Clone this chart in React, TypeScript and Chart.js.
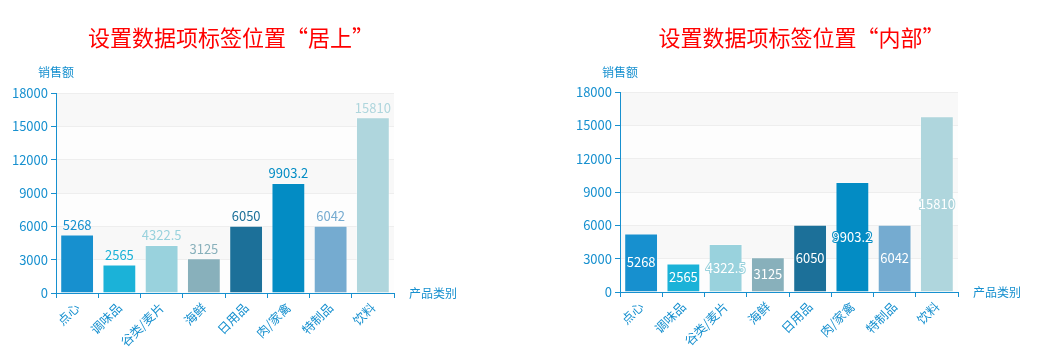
import React, { useEffect, useRef } from "react";
import { Chart, registerables } from "chart.js";

Chart.register(...registerables);

const categories = ["点心", "调味品", "谷类/麦片", "海鲜", "日用品", "肉/家禽", "特制品", "饮料"];
const salesValues = [5268, 2565, 4322.5, 3125, 6050, 9903.2, 6042, 15810];
const barColors = ["#1790cf", "#1bb2d8", "#99d2dd", "#88b0bb", "#1c7099", "#038cc4", "#75abd0", "#afd6dd"];
const yMin = 0;
const yMax = 18000;
const yStep = 3000;
const chartTitles = ["设置数据项标签位置“居上”", "设置数据项标签位置“内部”"];
const yAxisName = "销售额";
const xAxisName = "产品类别";

const FONT = '"Noto Sans CJK SC", "Noto Sans", sans-serif';
const AXIS_COLOR = "#1790cf";

type PanelProps = {
  left: number;
  width: number;
  padTop: number;
  padRight: number;
  xHeight: number;
  titleX: number;
  title: string;
  mode: "top" | "inside";
};

function Panel(props: PanelProps) {
  const ref = useRef<HTMLCanvasElement | null>(null);
  useEffect(() => {
    const canvas = ref.current;
    if (!canvas) return;

    const bandsPlugin = {
      id: "bands",
      beforeDraw(chart: any) {
        const { ctx, chartArea } = chart;
        const ys = chart.scales.y;
        ctx.save();
        let i = 0;
        for (let v = yMin; v < yMax; v += yStep) {
          const y1 = ys.getPixelForValue(v);
          const y2 = ys.getPixelForValue(v + yStep);
          ctx.fillStyle = i % 2 === 0 ? "rgba(250,250,250,0.3)" : "rgba(200,200,200,0.13)";
          ctx.fillRect(chartArea.left, y2, chartArea.right - chartArea.left, y1 - y2);
          i++;
        }
        ctx.restore();
      },
    };

    const labelsPlugin = {
      id: "barLabels",
      afterDatasetsDraw(chart: any) {
        const { ctx } = chart;
        const meta = chart.getDatasetMeta(0);
        ctx.save();
        ctx.font = "13px " + FONT;
        ctx.textAlign = "center";
        meta.data.forEach((bar: any, i: number) => {
          const text = String(salesValues[i]);
          if (props.mode === "top") {
            ctx.textBaseline = "bottom";
            ctx.fillStyle = barColors[i];
            ctx.fillText(text, bar.x, bar.y - 3);
          } else {
            ctx.textBaseline = "middle";
            const cy = (bar.y + bar.base) / 2;
            ctx.lineWidth = 2;
            ctx.lineJoin = "round";
            ctx.strokeStyle = barColors[i];
            ctx.strokeText(text, bar.x, cy);
            ctx.fillStyle = "#ffffff";
            ctx.fillText(text, bar.x, cy);
          }
        });
        ctx.restore();
      },
    };

    const textPlugin = {
      id: "texts",
      afterDraw(chart: any) {
        const { ctx, chartArea } = chart;
        ctx.save();
        ctx.fillStyle = "#ff0000";
        ctx.font = "22px " + FONT;
        ctx.textAlign = "center";
        ctx.textBaseline = "middle";
        ctx.fillText(props.title, props.titleX, 38);
        ctx.fillStyle = AXIS_COLOR;
        ctx.font = "12px " + FONT;
        ctx.fillText(yAxisName, chartArea.left, 72);
        ctx.textAlign = "left";
        ctx.fillText(xAxisName, chartArea.right + 15, chartArea.bottom);
        ctx.restore();
      },
    };

    const chart = new Chart(canvas, {
      type: "bar",
      data: {
        labels: categories,
        datasets: [
          {
            data: salesValues,
            backgroundColor: barColors,
            borderColor: "rgba(255,255,255,0.35)",
            borderWidth: 1,
            barPercentage: 0.8,
            categoryPercentage: 1,
          },
        ],
      },
      options: {
        responsive: false,
        animation: false,
        devicePixelRatio: 1,
        layout: { padding: { left: 0, top: props.padTop, right: props.padRight, bottom: 0 } },
        plugins: {
          legend: { display: false },
          tooltip: { enabled: false },
          title: { display: false },
        },
        scales: {
          x: {
            offset: true,
            border: { color: AXIS_COLOR, width: 1 },
            grid: {
              offset: true,
              drawOnChartArea: false,
              drawTicks: true,
              tickLength: 5,
              color: AXIS_COLOR,
            },
            ticks: {
              autoSkip: false,
              minRotation: 45,
              maxRotation: 45,
              color: AXIS_COLOR,
              padding: 2,
              font: { size: 12.5, family: FONT },
            },
            afterFit(scale: any) {
              scale.height = props.xHeight;
            },
          },
          y: {
            min: yMin,
            max: yMax,
            border: { color: AXIS_COLOR, width: 1 },
            grid: {
              color: "#eeeeee",
              tickColor: AXIS_COLOR,
              tickLength: 5,
              drawTicks: true,
            },
            ticks: {
              stepSize: yStep,
              color: AXIS_COLOR,
              padding: 3,
              font: { size: 13, family: FONT },
              callback: (v: any) => String(v),
            },
            afterFit(scale: any) {
              scale.width = 56;
            },
          },
        },
      },
      plugins: [bandsPlugin, labelsPlugin, textPlugin],
    });
    return () => chart.destroy();
  }, []);

  return (
    <canvas
      ref={ref}
      width={props.width}
      height={347}
      style={{ position: "absolute", left: props.left, top: 0, width: props.width, height: 347 }}
    />
  );
}

export default function App() {
  useEffect(() => {
    document.body.style.margin = "0";
  }, []);
  return (
    <div style={{ position: "absolute", left: 0, top: 0, width: 1039, height: 347, background: "#fff", overflow: "hidden" }}>
      <Panel left={0} width={520} padTop={93} padRight={126} xHeight={54} titleX={231} title={chartTitles[0]} mode="top" />
      <Panel left={564} width={475} padTop={92} padRight={81} xHeight={55} titleX={237.5} title={chartTitles[1]} mode="inside" />
    </div>
  );
}
